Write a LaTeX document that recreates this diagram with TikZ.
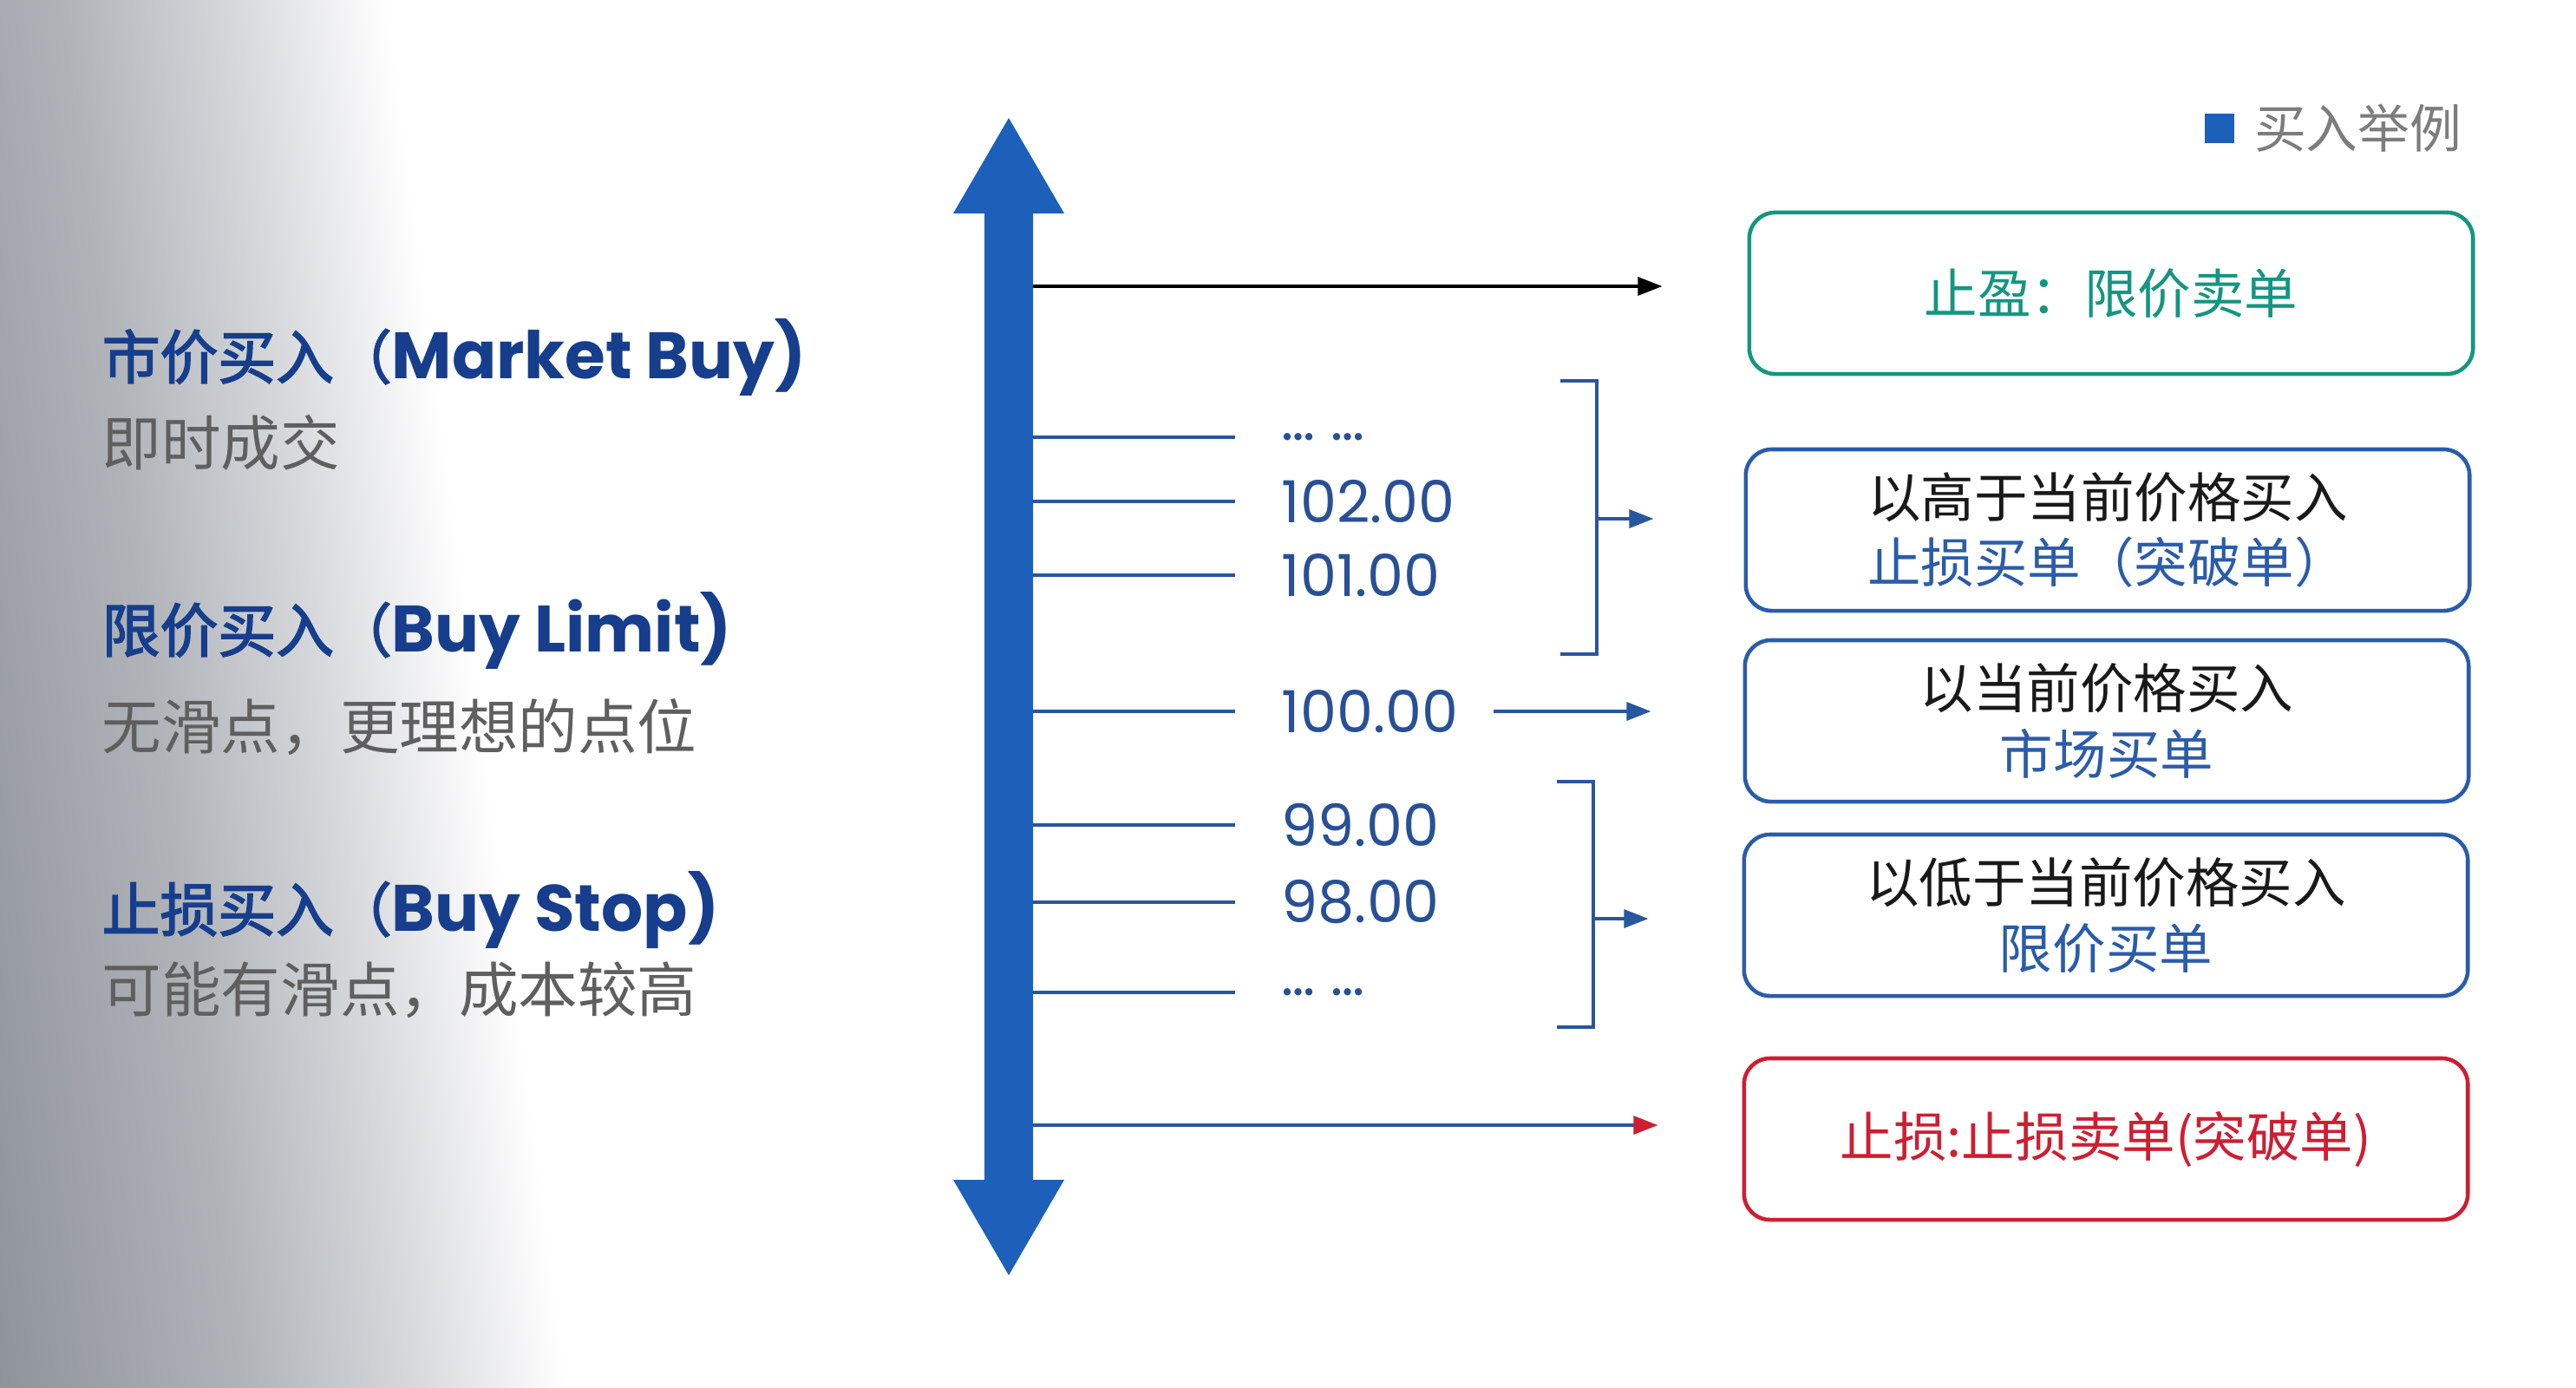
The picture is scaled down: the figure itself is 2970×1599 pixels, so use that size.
\documentclass[tikz,border=0pt]{standalone}
\usepackage{fontspec}
\setmainfont{Noto Sans CJK SC}[AutoFakeBold=2.5]
\newfontfamily\numfont{Poppins}
\newfontfamily\latinfont{Poppins}
\usetikzlibrary{arrows.meta}

\definecolor{axisblue}{RGB}{28,96,186}
\definecolor{tickblue}{RGB}{40,86,160}
\definecolor{pricetxt}{RGB}{40,80,150}
\definecolor{headblue}{RGB}{22,62,140}
\definecolor{notegray}{RGB}{95,95,95}
\definecolor{boxblue}{RGB}{42,92,170}
\definecolor{boxtext}{RGB}{25,25,25}
\definecolor{tpgreen}{RGB}{20,150,128}
\definecolor{slred}{RGB}{206,30,50}
\definecolor{bggray}{RGB}{138,143,150}
\definecolor{bgmid}{RGB}{176,180,185}
\definecolor{bglight}{RGB}{216,218,221}
\definecolor{legendgray}{RGB}{125,125,125}

% the path covers 25bp..75bp of the shading
\pgfdeclarehorizontalshading{sidefade}{100bp}{color(0bp)=(bggray); color(25bp)=(bggray);
  color(45bp)=(bgmid); color(57.5bp)=(bglight); color(68bp)=(white); color(100bp)=(white)}

\begin{document}
\begin{tikzpicture}[x=0.01cm,y=-0.01cm,
  tick/.style={draw=tickblue,line width=0.9pt},
  pointer/.style={-{Triangle[length=8pt,width=6pt]}},
  price/.style={text=pricetxt,font=\numfont\fontsize{19}{19}\selectfont,anchor=west,inner sep=0pt},
  order/.style={rounded corners=0.3cm,line width=1.3pt,minimum width=8.34cm,minimum height=1.86cm,
    align=center,text=boxtext,font=\fontsize{17.5}{21.5}\selectfont},
  head/.style={text=headblue,font=\bfseries\fontsize{19}{19}\selectfont,anchor=west,inner sep=0pt},
  note/.style={text=notegray,font=\fontsize{19.5}{19.5}\selectfont,anchor=west,inner sep=0pt}]

  \useasboundingbox (0,0) rectangle (2970,1599);
  % background: grey on the left, fading to white
  \fill[white] (0,0) rectangle (2970,1599);
  \begin{scope}[transform canvas={xslant=-0.13}]
    \shade[shading=sidefade] (-250,-20) rectangle (560,1620);
  \end{scope}

  % order types on the left
  \node[head] (mkt) at (117,412) {市价买入（{\latinfont\fontsize{21.5}{21.5}\selectfont Market Buy)}};
  \node[note] (mktnote) at (117,510) {即时成交};
  \node[head] (lmt) at (117,727) {限价买入（{\latinfont\fontsize{21.5}{21.5}\selectfont Buy Limit)}};
  \node[note] (lmtnote) at (117,838) {无滑点，更理想的点位};
  \node[head] (stp) at (117,1049) {止损买入（{\latinfont\fontsize{21.5}{21.5}\selectfont Buy Stop)}};
  \node[note] (stpnote) at (117,1141) {可能有滑点，成本较高};

  % price axis
  \fill[axisblue] (1163,136) -- (1227,246) -- (1191,246) -- (1191,1360) -- (1227,1360)
    -- (1163,1470) -- (1099,1360) -- (1135,1360) -- (1135,246) -- (1099,246) -- cycle;
  \coordinate (axisR) at (1191,0);

  % price levels
  \foreach \nm/\y/\txt in {pa/504/{… …},pb/578/102.00,pc/663/101.00,pd/820/100.00,
                           pe/951/99.00,pf/1040/98.00,pg/1144/{… …}}{
    \node[price] (\nm) at (1477,\y) {\txt};
    \draw[tick] (axisR |- \nm.west) -- ([xshift=-0.53cm]\nm.west);
  }

  % legend
  \node[fill=axisblue,minimum size=0.34cm,inner sep=0pt] (key) at (2559,148) {};
  \node[anchor=west,text=legendgray,font=\fontsize{17}{17}\selectfont] (keytxt)
    at ([xshift=0.1cm]key.east) {买入举例};

  % order boxes on the right
  \node[order,draw=tpgreen,text=tpgreen] (tp) at (2434,338) {止盈：限价卖单};
  \node[order,draw=boxblue] (above) at (2430,611) {以高于当前价格买入\\\textcolor{boxblue}{止损买单（突破单）}};
  \node[order,draw=boxblue] (now) at (2429,831) {以当前价格买入\\\textcolor{boxblue}{市场买单}};
  \node[order,draw=boxblue] (below) at (2428,1055) {以低于当前价格买入\\\textcolor{boxblue}{限价买单}};
  \node[order,draw=slred,text=slred] (sl) at (2428,1313) {止损:止损卖单(突破单)};

  % take profit
  \coordinate (tphit) at (1191,330);
  \draw[pointer,line width=0.9pt,shorten >=0.98cm] (tphit) -- (tphit -| tp.west);

  % brackets above and below the current price
  \draw[tick] (1799,439) -- (1841,439) -- (1841,754) -- (1799,754);
  \coordinate (upmid) at (1841,598);
  \draw[tick,pointer,shorten >=1.04cm] (upmid) -- (upmid -| above.west);
  \draw[tick,pointer,shorten <=0.4cm,shorten >=1.06cm] (pd.east) -- (pd.east -| now.west);
  \draw[tick] (1795,901) -- (1837,901) -- (1837,1184) -- (1795,1184);
  \coordinate (lowmid) at (1837,1059);
  \draw[tick,pointer,shorten >=1.08cm] (lowmid) -- (lowmid -| below.west);

  % stop loss
  \coordinate (slhit) at (1191,1297);
  \draw[tick,-{Triangle[length=8pt,width=6pt,color=slred]},shorten >=0.97cm] (slhit) -- (slhit -| sl.west);
\end{tikzpicture}
\end{document}
